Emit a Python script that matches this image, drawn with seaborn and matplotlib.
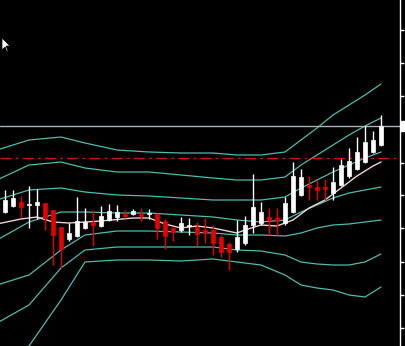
import numpy as np
import pandas as pd
import matplotlib
matplotlib.use("Agg")
import matplotlib.pyplot as plt
import seaborn as sns
from matplotlib.patches import Rectangle, Polygon

# ---- data (price units) ----
opens  = [134,140,144,141,141,143,136,119,107,110,118,124,120,126,129,132,132,132,132,132,
          125,118,116,120,119,116,116,109,102, 97,103,121,123,129,128,123,134,151,161,159,
          159,153,161,170,177,184,194,201]
highs  = [156,156,150,160,157,143,136,119,123,149,138,136,140,142,141,136,137,138,137,133,
          127,119,129,128,124,128,121,111,104,126,130,172,144,138,138,149,184,177,170,166,
          167,179,187,198,209,220,215,231]
lows   = [133,139,129,118,127,116, 81, 78,105,109,117,100,119,125,125,128,131,125,127,107,
           97,105,114,111,100,103, 91, 89, 76, 94,101,113,121,111,111,121,133,150,146,146,
          146,146,160,168,176,183,193,200]
closes = [146,148,139,142,144,128,111, 97,113,125,124,121,130,135,134,130,135,130,133,118,
          110,114,123,121,112,113,103, 94, 94,109,121,139,134,126,125,143,170,169,159,156,
          157,164,181,185,194,204,206,220]

band_idx = [-1, 3, 7, 10, 14, 18, 22, 26, 29, 32, 35, 37, 39, 41, 43, 45, 47]
band_u3  = [196,206,209,203,196,194,193,193,191,191,194,206,218,231,241,251,262]
band_u2  = [166,181,184,178,174,174,171,168,166,166,169,181,191,201,211,220,228]
band_u1  = [146,156,158,154,151,150,148,146,146,146,149,158,166,174,181,188,194]
band_mid = [106,124,134,134,133,133,131,129,126,124,126,134,141,148,153,156,159]
band_l1  = [ 61, 71, 96,111,115,115,114,113,111,111,110,113,118,121,122,124,126]
band_l2  = [ 23, 41, 78, 96, 99, 99, 99, 99, 96, 95, 91, 84, 82, 81, 81, 84, 92]
band_l3  = [-14,  0, 46, 84, 86, 86, 85, 87, 84, 81, 71, 61, 58, 56, 51, 49, 59]

ma_idx = [-1, 2, 4, 6, 8, 12, 16, 18, 20, 22, 24, 26, 29, 30, 32, 34, 36, 38, 40, 42, 44, 46, 47]
ma_val = [122,127,129,124,123,125,128,128,122,118,120,118,113,116,121,120,126,138,146,158,170,180,184]

current_price = 220
level_line = 188
axis_ticks = [316, 283, 250, 217, 183, 151, 118, 84, 51, 18]

# ---- styling ----
sns.set_style("dark", {"axes.facecolor": "black", "figure.facecolor": "black"})
W, H = 406, 346
fig = plt.figure(figsize=(W / 100, H / 100), dpi=100, facecolor="black")
ax = fig.add_axes([0, 0, 400 / W, 1])
ax.set_facecolor("black")

band_color = "#4cbcae"
bands = pd.DataFrame({"idx": band_idx, "u3": band_u3, "u2": band_u2, "u1": band_u1,
                      "mid": band_mid, "l1": band_l1, "l2": band_l2, "l3": band_l3})
for col in ["u3", "u2", "u1", "mid", "l1", "l2", "l3"]:
    sns.lineplot(data=bands, x="idx", y=col, ax=ax, color=band_color, lw=0.9,
                 estimator=None, legend=False)

ma = pd.DataFrame({"idx": ma_idx, "val": ma_val})
sns.lineplot(data=ma, x="idx", y="val", ax=ax, color="#f2cfcf", lw=1.0,
             estimator=None, legend=False)

# candles
df = pd.DataFrame({"o": opens, "h": highs, "l": lows, "c": closes})
df["i"] = np.arange(len(df))
for _, r in df.iterrows():
    up = r.c >= r.o
    col = "white" if up else "#e60000"
    ax.vlines(r.i, r.l, r.h, color=col, lw=1.0, zorder=3)
    lo, hi = min(r.o, r.c), max(r.o, r.c)
    ax.add_patch(Rectangle((r.i - 0.3, lo), 0.6, max(hi - lo, 1.2),
                           facecolor=col, edgecolor=col, lw=0.5, zorder=4))

ax.axhline(current_price, color="#a8b2bc", lw=1.0, zorder=2)
ax.axhline(level_line, color="#c81414", lw=1.0, dashes=(8, 3, 2, 3), zorder=2)

ax.set_xlim(-0.625, 49.375)
ax.set_ylim(0, 346)
ax.set_xlabel("")
ax.set_ylabel("")
ax.set_xticks([])
ax.yaxis.tick_right()
ax.set_yticks(axis_ticks)
ax.set_yticklabels([])
ax.tick_params(axis="y", colors="white", length=3, width=1, direction="out")
for s in ["top", "bottom", "left"]:
    ax.spines[s].set_visible(False)
ax.spines["right"].set_visible(True)
ax.spines["right"].set_color("white")
ax.spines["right"].set_linewidth(1.0)
ax.grid(False)

# price label box at the right edge
ax.add_patch(Rectangle((1.003, current_price - 5), 0.05, 10, transform=ax.get_yaxis_transform(),
                       facecolor="white", edgecolor="white", clip_on=False, zorder=5))

# mouse cursor
cur = np.array([[2, 38], [2, 50], [5, 47], [7, 52], [8, 51], [6, 46], [10, 46]], dtype=float)
cur[:, 0] /= W
cur[:, 1] = 1 - cur[:, 1] / H
fig.patches.append(Polygon(cur, closed=True, transform=fig.transFigure,
                           facecolor="white", edgecolor="black", lw=0.5))

fig.savefig("out.png", dpi=100, facecolor="black")
